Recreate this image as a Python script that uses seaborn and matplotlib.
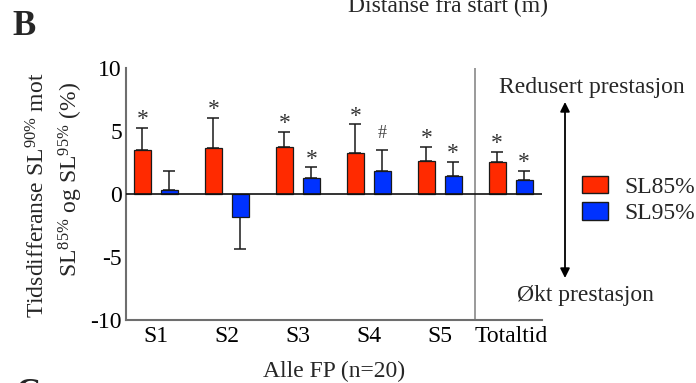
import matplotlib
matplotlib.use("Agg")
import matplotlib.pyplot as plt
from matplotlib.patches import Patch
import seaborn as sns
import pandas as pd

# Segment labels and the two pacing conditions
segments = ["S1", "S2", "S3", "S4", "S5", "Totaltid"]
conditions = ["SL85%", "SL95%"]

# Mean time difference (%) and one-sided error (SD) per segment
sl85_mean = [3.5, 3.6, 3.7, 3.2, 2.6, 2.55]
sl85_err = [1.7, 2.4, 1.2, 2.3, 1.1, 0.8]
sl95_mean = [0.3, -1.8, 1.25, 1.85, 1.45, 1.1]
sl95_err = [1.5, 2.6, 0.85, 1.65, 1.05, 0.75]

# Significance markers above each bar ("" = none)
sl85_marks = ["*", "*", "*", "*", "*", "*"]
sl95_marks = ["", "", "*", "#", "*", "*"]

df = pd.DataFrame({
    "segment": segments * 2,
    "condition": [conditions[0]] * len(segments) + [conditions[1]] * len(segments),
    "value": sl85_mean + sl95_mean,
})

sns.set_style("white")
plt.rcParams["font.family"] = ["Liberation Serif", "DejaVu Serif"]
plt.rcParams["mathtext.fontset"] = "custom"
plt.rcParams["mathtext.rm"] = "Liberation Serif"
plt.rcParams["mathtext.it"] = "Liberation Serif:italic"
plt.rcParams["mathtext.bf"] = "Liberation Serif:bold"

FS = 17
W, H = 696, 383
fig = plt.figure(figsize=(W / 100, H / 100), dpi=100)
ax = fig.add_axes([126 / W, 1 - 320 / H, (542 - 126) / W, (320 - 67.7) / H])

palette = {"SL85%": "#ff2a00", "SL95%": "#0032ff"}
sns.barplot(data=df, x="segment", y="value", hue="condition", order=segments,
            hue_order=conditions, palette=palette, errorbar=None, width=0.76,
            gap=0.37, edgecolor="#1a1a1a", linewidth=0.9, saturation=1,
            legend=False, ax=ax, zorder=3)

# One-sided error bars and significance marks
for cont, errs, marks in [(ax.containers[0], sl85_err, sl85_marks),
                          (ax.containers[1], sl95_err, sl95_marks)]:
    for bar, e, m in zip(cont.patches, errs, marks):
        xc = bar.get_x() + bar.get_width() / 2
        h = bar.get_height()
        if h >= 0:
            yerr = [[0], [e]]
            tip = h + e
        else:
            yerr = [[e], [0]]
            tip = h - e
        ax.errorbar(xc, h, yerr=yerr, fmt="none", ecolor="#1a1a1a",
                    elinewidth=1.1, capsize=4.5, capthick=1.1, zorder=2)
        if m == "*":
            ax.annotate(m, (xc, tip), xytext=(0, 6), textcoords="offset points",
                        ha="center", va="center", fontsize=FS, color="#333333")
        elif m == "#":
            ax.annotate(m, (xc, tip), xytext=(0, 11.5), textcoords="offset points",
                        ha="center", va="center", fontsize=13, color="#444444")

ax.axhline(0, color="#111111", lw=1.2, zorder=4)
ax.axvline(4.5, color="#9a9a9a", lw=1.4, zorder=1)

ax.set_ylim(-10, 10)
ax.set_xlim(-0.42, 5.44)
ax.set_yticks([-10, -5, 0, 5, 10])
ax.set_yticklabels(["-10", "-5", "0", "5", "10"])
ax.tick_params(axis="both", direction="in", length=6, width=1.2, color="#555555",
               labelsize=FS, labelcolor="black")
ax.tick_params(axis="y", pad=3)
ax.tick_params(axis="x", pad=4)
ax.set_xlabel("Alle FP (n=20)", fontsize=FS, labelpad=10)
ax.set_ylabel("")
for s in ["top", "right"]:
    ax.spines[s].set_visible(False)
for s in ["left", "bottom"]:
    ax.spines[s].set_color("#6e6e6e")
    ax.spines[s].set_linewidth(1.5)

# Two-line y-axis label
fig.text(38 / W, 1 - 195 / H, r"Tidsdifferanse SL$^{90\%}$ mot", rotation=90,
         ha="center", va="center", fontsize=FS)
fig.text(71 / W, 1 - 179 / H, r"SL$^{85\%}$ og SL$^{95\%}$ (%)", rotation=90,
         ha="center", va="center", fontsize=FS)

# Legend
handles = [Patch(facecolor=palette[c], edgecolor="#1a1a1a", linewidth=1.0) for c in conditions]
fig.legend(handles, conditions, loc="center left", bbox_to_anchor=(582 / W, 1 - 200 / H),
           frameon=False, fontsize=FS, handlelength=1.1, handleheight=0.76,
           handletextpad=0.68, labelspacing=0.2, borderpad=0, borderaxespad=0)

# Performance direction arrow and annotations, in pixel coordinates
ax_arrow = fig.add_axes([0, 0, 1, 1], facecolor="none")
ax_arrow.set_axis_off()
ax_arrow.set_xlim(0, W)
ax_arrow.set_ylim(H, 0)
ax_arrow.annotate("", xy=(565, 102), xytext=(565, 278),
                  arrowprops=dict(arrowstyle="<|-|>", color="black", lw=1.3,
                                  mutation_scale=14, shrinkA=0, shrinkB=0))
ax_arrow.text(591.5, 93, "Redusert prestasjon", ha="center", va="baseline", fontsize=FS)
ax_arrow.text(585, 301, "Økt prestasjon", ha="center", va="baseline", fontsize=FS)

# Panel letters and the title of the panel above
ax_arrow.text(12, 35, "B", ha="left", va="baseline", fontsize=25, fontweight="bold")
ax_arrow.text(15, 403, "C", ha="left", va="baseline", fontsize=25, fontweight="bold")
ax_arrow.text(448, 12, "Distanse fra start (m)", ha="center", va="baseline", fontsize=FS)

fig.savefig("out.png", dpi=100)
